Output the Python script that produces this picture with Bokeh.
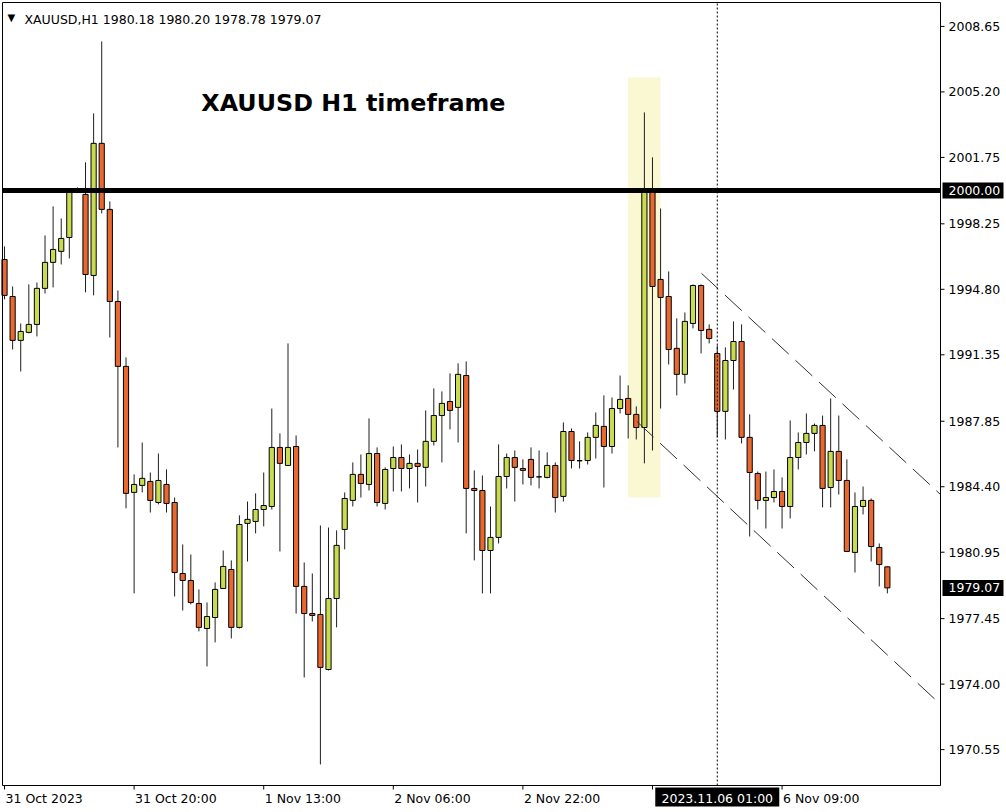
import math
from bokeh.plotting import figure
from bokeh.models import ColumnDataSource, Label, Range1d
from bokeh.core.properties import value
from bokeh.embed import file_html
from bokeh.resources import INLINE

# ---------------- data (XAUUSD, H1, 31 Oct 2023 04:00 -> 6 Nov 2023 22:00) ----------------
OPEN = [1996.37, 1994.42, 1992.11, 1992.53, 1992.95, 1994.85, 1996.22, 1996.80, 1997.53, 2000.05,
        1999.80, 1995.53, 2002.49, 1999.01, 1994.16, 1990.74, 1984.10, 1984.47, 1984.68, 1983.57,
        1984.52, 1983.57, 1979.83, 1979.46, 1978.25, 1976.93, 1977.51, 1979.04, 1980.04, 1976.99,
        1982.47, 1982.57, 1983.20, 1983.36, 1986.47, 1985.52, 1986.52, 1979.15, 1977.72, 1977.67,
        1974.77, 1978.51, 1982.15, 1983.68, 1985.05, 1984.52, 1986.15, 1983.52, 1985.36, 1985.94,
        1985.36, 1985.63, 1985.42, 1986.79, 1988.15, 1988.89, 1988.58, 1990.26, 1984.31, 1984.20,
        1981.04, 1981.73, 1984.94, 1985.94, 1985.36, 1985.84, 1984.92, 1984.89, 1985.52, 1983.89,
        1987.31, 1985.77, 1985.78, 1987.00, 1987.58, 1986.52, 1988.52, 1989.05, 1988.21, 1987.52,
        2000.06, 1995.32, 1994.42, 1991.69, 1990.32, 1993.00, 1995.00, 1992.69, 1991.42, 1988.37,
        1991.05, 1992.05, 1987.00, 1985.10, 1983.68, 1983.83, 1984.15, 1983.36, 1985.94, 1986.73,
        1987.21, 1987.63, 1984.36, 1986.26, 1984.73, 1980.94, 1983.36, 1983.68, 1981.20, 1980.18]
HIGH = [1997.06, 1994.95, 1993.00, 1995.06, 1995.16, 1997.64, 1999.17, 1998.53, 2000.11, 2000.17,
        2001.49, 2004.07, 2007.86, 1999.43, 1994.74, 1991.21, 1985.05, 1986.73, 1985.15, 1986.15,
        1985.31, 1983.83, 1981.36, 1980.83, 1978.99, 1978.30, 1979.36, 1981.04, 1980.52, 1982.89,
        1983.62, 1984.05, 1985.15, 1988.52, 1987.21, 1991.95, 1987.10, 1980.41, 1979.83, 1982.36,
        1982.25, 1982.10, 1984.10, 1985.68, 1986.10, 1988.00, 1986.47, 1985.42, 1986.52, 1986.63,
        1986.10, 1986.36, 1988.42, 1989.58, 1989.42, 1990.37, 1990.90, 1991.00, 1985.26, 1984.99,
        1983.36, 1986.63, 1986.15, 1986.31, 1985.84, 1986.47, 1986.31, 1986.21, 1985.68, 1987.79,
        1987.47, 1986.79, 1987.26, 1988.31, 1989.21, 1989.10, 1990.26, 1989.74, 1988.63, 2004.12,
        2001.75, 1999.06, 1995.74, 1993.27, 1993.58, 1995.06, 1995.06, 1992.95, 1991.84, 1991.74,
        1993.11, 1992.95, 1988.21, 1985.20, 1985.20, 1985.31, 1984.89, 1987.89, 1987.26, 1988.26,
        1987.73, 1988.15, 1989.05, 1988.15, 1985.84, 1984.10, 1984.41, 1983.78, 1981.41, 1980.20]
LOW = [1994.27, 1991.63, 1990.47, 1992.48, 1992.32, 1994.58, 1994.90, 1996.11, 1996.43, 1999.90,
       1994.64, 1994.48, 1998.80, 1992.26, 1986.47, 1983.26, 1978.78, 1984.10, 1983.04, 1983.47,
       1983.04, 1978.62, 1977.88, 1978.20, 1976.78, 1974.93, 1976.20, 1979.04, 1976.41, 1976.93,
       1980.46, 1981.94, 1982.31, 1983.20, 1980.99, 1985.52, 1977.72, 1974.35, 1977.30, 1969.77,
       1974.72, 1976.99, 1981.10, 1983.36, 1983.83, 1984.20, 1983.36, 1983.20, 1984.15, 1984.15,
       1984.31, 1983.57, 1984.41, 1986.57, 1985.68, 1987.42, 1986.73, 1981.94, 1980.52, 1978.78,
       1978.78, 1981.41, 1984.31, 1983.62, 1984.52, 1984.47, 1984.31, 1984.84, 1983.04, 1983.62,
       1985.36, 1985.36, 1985.57, 1985.89, 1984.36, 1986.15, 1988.26, 1986.94, 1986.89, 1985.63,
       1986.31, 1988.52, 1990.84, 1989.21, 1989.84, 1992.74, 1991.42, 1991.95, 1987.00, 1986.89,
       1989.52, 1986.68, 1981.78, 1983.20, 1982.20, 1983.57, 1982.20, 1982.73, 1985.31, 1986.10,
       1986.26, 1983.31, 1983.31, 1983.99, 1980.99, 1979.88, 1982.94, 1980.46, 1979.15, 1978.78]
CLOSE = [1994.48, 1992.11, 1992.58, 1992.95, 1994.85, 1996.22, 1996.90, 1997.48, 2000.01, 1999.96,
         1995.58, 2002.49, 1999.01, 1994.16, 1990.74, 1984.05, 1984.52, 1984.84, 1983.68, 1984.73,
         1983.52, 1979.88, 1979.46, 1978.30, 1976.99, 1977.56, 1978.99, 1980.20, 1976.99, 1982.41,
         1982.68, 1983.20, 1983.41, 1986.47, 1985.63, 1986.47, 1979.15, 1977.72, 1977.62, 1974.88,
         1978.51, 1981.31, 1983.78, 1985.05, 1984.57, 1986.15, 1983.57, 1985.31, 1985.94, 1985.36,
         1985.63, 1985.47, 1986.79, 1988.15, 1988.79, 1988.42, 1990.32, 1984.31, 1984.20, 1981.04,
         1981.73, 1984.94, 1985.94, 1985.42, 1985.26, 1984.89, 1984.92, 1985.52, 1983.83, 1987.31,
         1985.78, 1985.77, 1987.00, 1987.63, 1986.52, 1988.52, 1989.00, 1988.21, 1987.52, 2000.06,
         1994.95, 1994.37, 1991.63, 1990.32, 1993.11, 1995.00, 1992.63, 1992.21, 1988.37, 1991.05,
         1992.05, 1987.00, 1985.15, 1983.68, 1983.83, 1984.15, 1983.36, 1985.94, 1986.73, 1987.21,
         1987.63, 1984.31, 1986.26, 1984.73, 1980.99, 1983.36, 1983.68, 1981.25, 1980.30, 1979.07]
BAR = list(range(len(OPEN)))

X_TICKS = [0, 16, 32, 48, 64, 80, 96]
X_TICK_LABELS = ["31 Oct 2023", "31 Oct 20:00", "1 Nov 13:00", "2 Nov 06:00", "2 Nov 22:00", "", "6 Nov 09:00"]
Y_TICKS = [2008.65, 2005.20, 2001.75, 1998.25, 1994.80, 1991.35, 1987.85, 1984.40,
           1980.95, 1977.45, 1974.00, 1970.55]

SYMBOL = "XAUUSD,H1"
HEADLINE = "XAUUSD H1 timeframe"
LEVEL = 2000.00
MARKER_BAR = 88
MARKER_TIME = "2023.11.06 01:00"
# highlighted NFP zone (bars / prices)
ZONE_L, ZONE_R, ZONE_B, ZONE_T = 77.0, 81.0, 1983.83, 2005.96
# descending channel anchors (bar, price)
UPPER_X, UPPER_Y = [86.05, 115.56], [1995.64, 1983.99]
LOWER_X, LOWER_Y = [78.06, 115.56], [1987.84, 1972.93]
# visible chart window (bars / prices)
X_LO, X_HI = -0.25, 115.56
Y_LO, Y_HI = 1968.66, 2009.91

GREEN = "#C9DB4F"
RED = "#E9682F"
FONT = value("DejaVu Sans")
FS = value("12.5px")

# ---------------- canvas geometry (pixels) ----------------
W, H = 1004, 810
CHART_L, CHART_T, CHART_R, CHART_B = 2, 2, 940, 785        # chart window edges in px
PX_X = (X_HI - X_LO) / (CHART_R - CHART_L)                   # bars per pixel
PX_Y = (Y_HI - Y_LO) / (CHART_B - CHART_T)                   # price per pixel

p = figure(width=W, height=H, output_backend="svg", toolbar_location=None, tools="",
           x_axis_location=None, y_axis_location=None, min_border=0,
           x_range=Range1d(X_LO - CHART_L * PX_X, X_LO + (W - CHART_L) * PX_X),
           y_range=Range1d(Y_HI - (H - CHART_T) * PX_Y, Y_HI + CHART_T * PX_Y))
p.grid.visible = False
p.outline_line_color = None
p.background_fill_color = "white"
p.border_fill_color = "white"

# highlight zone behind candles
p.quad(left=[ZONE_L], right=[ZONE_R], bottom=[ZONE_B], top=[ZONE_T],
       fill_color="#FAF7D3", line_color=None)

# ---------------- candles ----------------
src = ColumnDataSource(dict(
    x=BAR, open=OPEN, high=HIGH, low=LOW, close=CLOSE,
    top=[max(o, c) for o, c in zip(OPEN, CLOSE)],
    bottom=[min(o, c) for o, c in zip(OPEN, CLOSE)],
    color=[GREEN if c >= o else RED for o, c in zip(OPEN, CLOSE)],
))
p.segment(x0="x", y0="low", x1="x", y1="high", source=src, line_color="#1e1e1e", line_width=1)
p.vbar(x="x", width=0.64, top="top", bottom="bottom", source=src,
       fill_color="color", line_color="black", line_width=1)

# channel lines
p.line(UPPER_X, UPPER_Y, line_color="#303030", line_width=1, line_dash="23 9")
p.line(LOWER_X, LOWER_Y, line_color="#303030", line_width=1, line_dash="23 9")

# horizontal 2000 level and vertical time marker
p.segment(x0=[X_LO], y0=[LEVEL], x1=[X_HI], y1=[LEVEL], line_color="black", line_width=5)
p.segment(x0=[MARKER_BAR], y0=[Y_LO], x1=[MARKER_BAR], y1=[Y_HI], line_color="black",
          line_width=1, line_dash="2 2")

# chart window border
p.quad(left=[X_LO], right=[X_HI], bottom=[Y_LO], top=[Y_HI], fill_color=None,
       line_color="black", line_width=1)

# ---------------- price scale (right) ----------------
p.ray(x=[X_HI] * len(Y_TICKS), y=Y_TICKS, length=4, angle=0, length_units="screen",
      line_color="black", line_width=1)
p.text(x=[X_HI] * len(Y_TICKS), y=Y_TICKS, text=[f"{v:.2f}" for v in Y_TICKS], x_offset=8,
       text_font=FONT, text_font_size=FS, text_color="black",
       text_align="left", text_baseline="middle")

# ---------------- time scale (bottom) ----------------
p.ray(x=X_TICKS, y=[Y_LO] * len(X_TICKS), length=4, angle=-math.pi / 2, length_units="screen",
      line_color="black", line_width=1)
lab_x = [t for t, s in zip(X_TICKS, X_TICK_LABELS) if s]
lab_t = [s for s in X_TICK_LABELS if s]
p.text(x=lab_x, y=[Y_LO] * len(lab_x), text=lab_t, x_offset=1, y_offset=12.5,
       text_font=FONT, text_font_size=FS, text_color="black",
       text_align="left", text_baseline="middle")

# ---------------- boxed labels ----------------
box_x = X_HI + 32.5 * PX_X
for price in (LEVEL, CLOSE[-1]):
    p.rect(x=[box_x], y=[price], width=61, height=16, width_units="screen", height_units="screen",
           fill_color="black", line_color=None)
    p.text(x=[X_HI], y=[price], text=[f"{price:.2f}"], x_offset=8,
           text_font=FONT, text_font_size=FS, text_color="white",
           text_align="left", text_baseline="middle")

p.rect(x=[MARKER_BAR], y=[Y_LO - 11.5 * PX_Y], width=124, height=19, width_units="screen",
       height_units="screen", fill_color="black", line_color=None)
p.text(x=[MARKER_BAR], y=[Y_LO], text=[MARKER_TIME], y_offset=12.5,
       text_font=FONT, text_font_size=FS, text_color="white",
       text_align="center", text_baseline="middle")

# ---------------- header and headline ----------------
p.add_layout(Label(x=7, y=H - 16.5, x_units="screen", y_units="screen", text="\u25BC",
                   text_font="DejaVu Sans", text_font_size="10px", text_color="black",
                   text_baseline="alphabetic"))
title = f"{SYMBOL}  {OPEN[-1]:.2f} {HIGH[-1]:.2f} {LOW[-1]:.2f} {CLOSE[-1]:.2f}"
p.add_layout(Label(x=24, y=H - 18.5, x_units="screen", y_units="screen", text=title,
                   text_font="DejaVu Sans", text_font_size="12.5px", text_color="black",
                   text_baseline="alphabetic"))
p.add_layout(Label(x=24.3, y=2004.60, text=HEADLINE, text_font="DejaVu Sans",
                   text_font_size="23.8px", text_font_style="bold", text_color="black",
                   text_baseline="middle", text_align="left"))

open("out.html", "w").write(file_html(p, INLINE, "XAUUSD H1"))
